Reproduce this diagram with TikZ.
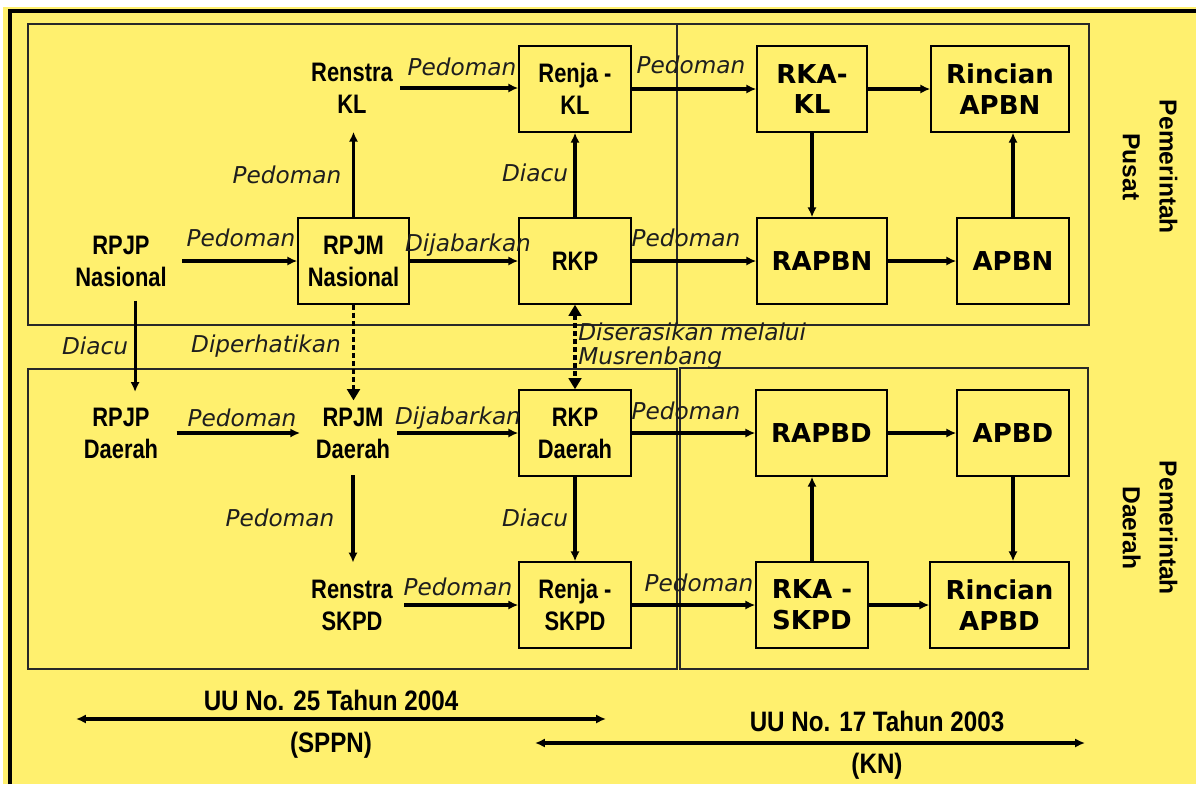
\documentclass[tikz,border=0pt]{standalone}
\usepackage{fontspec}
\setmainfont{DejaVu Sans}
\newfontfamily\narrowfont[FakeStretch=0.82]{Liberation Sans}
\newfontfamily\lawfont[FakeStretch=0.86]{Liberation Sans}
\newfontfamily\sidefont{Liberation Sans}
\usetikzlibrary{arrows.meta}
\definecolor{slideyellow}{RGB}{255,240,110}
\definecolor{framegray}{RGB}{40,40,40}
\definecolor{labelgray}{RGB}{30,30,30}

\begin{document}
\begin{tikzpicture}[x=0.025cm,y=-0.025cm,
  nbox/.style={draw,line width=1pt,inner sep=0pt,minimum width=2.8cm,minimum height=2.15cm,align=center,font=\narrowfont\bfseries\fontsize{19}{22.7}\selectfont},
  wbox/.style={draw,line width=1pt,inner sep=0pt,minimum width=2.8cm,minimum height=2.15cm,align=center,font=\bfseries\fontsize{18.5}{22}\selectfont},
  doc/.style={align=center,inner sep=5pt,font=\narrowfont\bfseries\fontsize{19}{22.7}\selectfont},
  lbl/.style={inner sep=0pt,text=labelgray,font=\itshape\fontsize{16.5}{16.5}\selectfont},
  side/.style={rotate=-90,align=center,font=\sidefont\bfseries\fontsize{17.5}{26}\selectfont},
  law/.style={align=center,font=\lawfont\bfseries\fontsize{20}{30}\selectfont},
  arr/.style={line width=2.2pt,-{Latex[length=7pt,width=6.5pt]}},
  dots/.style={line width=2.8pt,dash pattern=on 3.5pt off 2.2pt,-{Triangle[length=8pt,width=9pt]}}]
\useasboundingbox (0,0) rectangle (1196,784);
\fill[white] (0,0) rectangle (1196,784);
\fill[slideyellow] (3,7) rectangle (1196,784);
\draw[line width=2.8pt] (10,784) -- (10,11) -- (1196,11);
% frames
\begin{scope}[draw=framegray,line width=0.8pt]
\draw (28,24) rectangle (677,325);
\draw (677,24) rectangle (1089,325);
\draw (28,369) rectangle (677,669);
\draw (680,368) rectangle (1088,669);
\end{scope}
% pusat
\node[doc] (renstrakl) at (352,88) {Renstra\\KL};
\node[nbox] (renjakl) at (575,89) {Renja -\\KL};
\node[doc] (rpjpn) at (121,261) {RPJP\\Nasional};
\node[nbox,minimum width=2.775cm] (rpjmn) at (353.5,261) {RPJM\\Nasional};
\node[nbox] (rkp) at (575,261) {RKP};
\node[wbox,minimum width=2.75cm] (rkakl) at (812,89) {RKA-\\KL};
\node[wbox,minimum width=3.45cm] (rincn) at (1000,89) {Rincian\\APBN};
\node[wbox,minimum width=3.25cm] (rapbn) at (822,261) {RAPBN};
\node[wbox] (apbn) at (1013,261) {APBN};
% daerah
\node[doc] (rpjpd) at (121,433) {RPJP\\Daerah};
\node[doc] (rpjmd) at (353,433) {RPJM\\Daerah};
\node[nbox] (rkpd) at (575,433) {RKP\\Daerah};
\node[doc] (renstras) at (352,605) {Renstra\\SKPD};
\node[nbox] (renjas) at (575,605) {Renja -\\SKPD};
\node[wbox,minimum width=3.275cm] (rapbd) at (821.5,433) {RAPBD};
\node[wbox] (apbd) at (1013,433) {APBD};
\node[wbox] (rkas) at (812,605) {RKA -\\SKPD};
\node[wbox,minimum width=3.475cm] (rincd) at (999.5,605) {Rincian\\APBD};
\node[side] (pusat) at (1150,167) {Pemerintah\\Pusat};
\node[side] (daerah) at (1150,528) {Pemerintah\\Daerah};
% connectors
\draw[arr] (renstrakl.east) -- (renstrakl.east -| renjakl.west);
\draw[arr,shorten >=8pt] (rpjmn.north) -- (rpjmn.north |- renstrakl.south);
\draw[arr,shorten <=6pt] (rpjpn.east) -- (rpjpn.east -| rpjmn.west);
\draw[arr] (rpjmn.east) -- (rkp.west);
\draw[arr] (rkp.north) -- (renjakl.south);
\draw[arr] (renjakl.east) -- (renjakl.east -| rkakl.west);
\draw[arr] (rkp.east) -- (rapbn.west);
\draw[arr] (rkakl.east) -- (rkakl.east -| rincn.west);
\draw[arr] (rkakl.south) -- (rkakl.south |- rapbn.north);
\draw[arr] (rapbn.east) -- (apbn.west);
\draw[arr] (apbn.north) -- (apbn.north |- rincn.south);
\draw[arr,shorten <=5pt,shorten >=6pt] ([xshift=10pt]rpjpn.south) -- ([xshift=10pt]rpjpd.north);
\draw[dots] (rpjmn.south) -- (rpjmn.south |- rpjmd.north);
\draw[dots,{Triangle[length=8pt,width=9pt]}-{Triangle[length=8pt,width=9pt]}] (rkp.south) -- (rkpd.north);
\draw[arr,shorten <=8pt,shorten >=6pt] (rpjpd.east) -- (rpjpd.east -| rpjmd.west);
\draw[arr] (rpjmd.east) -- (rkpd.west);
\draw[arr,shorten <=7pt,shorten >=7pt] (rpjmd.south) -- (rpjmd.south |- renstras.north);
\draw[arr] (rkpd.south) -- (renjas.north);
\draw[arr,shorten <=3pt] (renstras.east) -- (renstras.east -| renjas.west);
\draw[arr] (rkpd.east) -- (rkpd.east -| rapbd.west);
\draw[arr] (renjas.east) -- (renjas.east -| rkas.west);
\draw[arr] (rapbd.east) -- (apbd.west);
\draw[arr] (rkas.north) -- (rkas.north |- rapbd.south);
\draw[arr] (apbd.south) -- (apbd.south |- rincd.north);
\draw[arr] (rkas.east) -- (rkas.east -| rincd.west);
% labels
\node[lbl] (p1) at (462,67) {Pedoman};
\node[lbl] (p2) at (287,175) {Pedoman};
\node[lbl] (p3) at (241,238) {Pedoman};
\node[lbl] (j1) at (468,245) {Dijabarkan};
\node[lbl] (c1) at (535,173) {Diacu};
\node[lbl] (p4) at (691,65) {Pedoman};
\node[lbl] (p5) at (686,238) {Pedoman};
\node[lbl] (c2) at (95,346) {Diacu};
\node[lbl] (h1) at (266,346) {Diperhatikan};
\node[lbl,anchor=west,align=left] (s1) at (578,346) {Diserasikan melalui\\Musrenbang};
\node[lbl] (p6) at (242,418) {Pedoman};
\node[lbl] (j2) at (458,418) {Dijabarkan};
\node[lbl] (p7) at (280,518) {Pedoman};
\node[lbl] (c3) at (535,518) {Diacu};
\node[lbl] (p8) at (458,587) {Pedoman};
\node[lbl] (p9) at (686,411) {Pedoman};
\node[lbl] (p10) at (699,583) {Pedoman};
% undang-undang
\node[law] (uu25) at (331,724) {UU No. 25 Tahun 2004\\(SPPN)};
\node[law] (uu17) at (877,745) {UU No. 17 Tahun 2003\\(KN)};
\coordinate (a25) at (76,719);
\coordinate (b25) at (606,719);
\coordinate (a17) at (535,743);
\coordinate (b17) at (1085,743);
\draw[line width=2.2pt,{Latex[length=7pt,width=6.5pt]}-{Latex[length=7pt,width=6.5pt]}] (a25) -- (b25);
\draw[line width=2.2pt,{Latex[length=7pt,width=6.5pt]}-{Latex[length=7pt,width=6.5pt]}] (a17) -- (b17);
\end{tikzpicture}
\end{document}
